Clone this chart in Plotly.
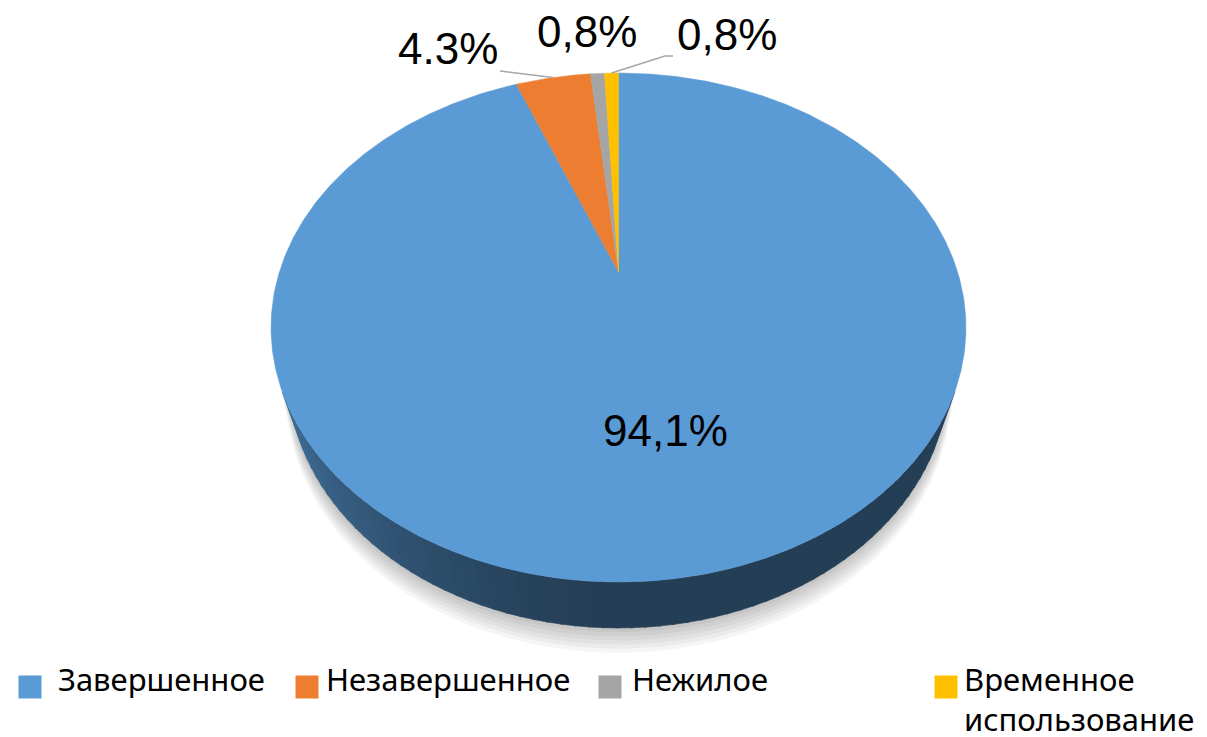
import numpy as np
import plotly.graph_objects as go

# ---------------- data ----------------
categories = ["Завершенное", "Незавершенное", "Нежилое", "Временное<br>использование"]
values = [94.1, 4.3, 0.8, 0.8]
value_labels = ["94,1%", "4.3%", "0,8%", "0,8%"]
colors = ["#5B9BD5", "#ED7D31", "#A5A5A5", "#FFC000"]

# ---------------- style / geometry (page pixels) ----------------
W, H = 1207, 737
PAD = 8                        # browser default body margin
CX, CY = 618.5, 272.0          # projected pie centre
SIN_A, COS_A = 0.7148, 0.6994  # camera elevation
DIST, FOC = 3.206, 1087.2      # camera distance / focal
THICK = 0.2277                 # pie thickness

label_pos = [(665.5, 430), (447.5, 48), (587, 31), (727, 34)]
leader_start = [None, (500, 71), None, (673, 56)]
leader_knee = [None, None, None, (665, 56)]
legend_sq_x = [30, 307, 610, 946]
legend_txt_x = [56, 324, 630, 962]
legend_y = 687


def project(theta_deg, r=1.0, z=0.0):
    t = np.radians(np.asarray(theta_deg, dtype=float))
    X = r * np.sin(t)
    Y = r * np.cos(t)
    depth = Y * COS_A - z * SIN_A + DIST
    sx = FOC * X / depth
    sy = FOC * (Y * SIN_A + z * COS_A) / depth
    return CX + sx, CY - sy


def shade(hexcol, f):
    h = hexcol.lstrip("#")
    r, g, b = (int(h[i:i + 2], 16) for i in (0, 2, 4))
    return "rgb(%d,%d,%d)" % (r * f, g * f, b * f)


fig = go.Figure()

total = float(sum(values))
cum = np.concatenate([[0.0], np.cumsum(values)]) / total * 360.0
starts, ends = cum[:-1], cum[1:]

# visible side range (perspective)
vis0 = np.degrees(np.arccos(-1.0 / (DIST * COS_A)))
vis1 = 360.0 - vis0

# ---- soft drop shadow ----
for k in range(6, 0, -1):
    th = np.linspace(vis0 - 5, vis1 + 5, 200)
    xt, yt = project(th, 1.0, -0.05)
    xb, yb = project(th[::-1], 1.0 + 0.004 * k, -THICK - 0.014 * k)
    fig.add_trace(go.Scatter(
        x=np.concatenate([xt, xb]), y=np.concatenate([yt, yb]),
        fill="toself", mode="lines", line=dict(width=0),
        fillcolor="rgba(0,0,0,0.04)", hoverinfo="skip", showlegend=False))

# ---- side walls ----
for i in range(len(values)):
    a0, a1 = max(starts[i], vis0), min(ends[i], vis1)
    if a1 <= a0:
        continue
    n = max(1, int(np.ceil((a1 - a0) / 2.0)))
    edges = np.linspace(a0, a1, n + 1)
    for j in range(n):
        th = np.linspace(edges[j], edges[j + 1] + (0.3 if j < n - 1 else 0), 6)
        xt, yt = project(th, 1.0, 0.0)
        xb, yb = project(th[::-1], 1.0, -THICK)
        mid = np.radians(0.5 * (edges[j] + edges[j + 1]))
        f = 0.40 + 0.34 * max(0.0, -np.sin(mid)) ** 1.5
        col = shade(colors[i], f)
        fig.add_trace(go.Scatter(
            x=np.concatenate([xt, xb, xt[:1]]), y=np.concatenate([yt, yb, yt[:1]]),
            fill="toself", mode="lines", line=dict(width=0.6, color=col),
            fillcolor=col, hoverinfo="skip", showlegend=False))

# ---- top faces ----
for i in range(len(values)):
    th = np.linspace(starts[i], ends[i], max(4, int((ends[i] - starts[i]) * 2)))
    xa, ya = project(th, 1.0, 0.0)
    fig.add_trace(go.Scatter(
        x=np.concatenate([[CX], xa, [CX]]), y=np.concatenate([[CY], ya, [CY]]),
        fill="toself", mode="lines", line=dict(width=0.5, color=colors[i]),
        fillcolor=colors[i], name=categories[i], hoverinfo="skip", showlegend=False))

# ---- leader lines ----
for i in range(len(values)):
    if leader_start[i] is None:
        continue
    mid = 0.5 * (starts[i] + ends[i])
    ex, ey = project(mid, 1.0, 0.0)
    xs = [leader_start[i][0]]
    ys = [leader_start[i][1]]
    if leader_knee[i] is not None:
        xs.append(leader_knee[i][0]); ys.append(leader_knee[i][1])
    xs.append(float(ex)); ys.append(float(ey))
    fig.add_trace(go.Scatter(x=xs, y=ys, mode="lines",
                             line=dict(color="#A6A6A6", width=1.5),
                             hoverinfo="skip", showlegend=False))

# ---- legend squares ----
fig.add_trace(go.Scatter(
    x=legend_sq_x, y=[legend_y] * len(values), mode="markers",
    marker=dict(symbol="square", size=23, color=colors, line=dict(width=0)),
    hoverinfo="skip", showlegend=False))

annotations = []
for i, txt in enumerate(value_labels):
    annotations.append(dict(
        x=label_pos[i][0], y=label_pos[i][1], text=txt, showarrow=False,
        xanchor="center", yanchor="middle",
        font=dict(family="Liberation Sans, Arial, sans-serif", size=44, color="#000000")))
for i, cat in enumerate(categories):
    annotations.append(dict(
        x=legend_txt_x[i], y=656, text=cat, showarrow=False,
        xanchor="left", yanchor="top", align="left",
        font=dict(family="Noto Sans, Open Sans, sans-serif", size=31, color="#000000")))

fig.update_layout(
    width=W - PAD, height=H - PAD, autosize=False,
    margin=dict(l=0, r=0, t=0, b=0),
    paper_bgcolor="white", plot_bgcolor="white",
    showlegend=False,
    xaxis=dict(range=[PAD, W], visible=False, fixedrange=True),
    yaxis=dict(range=[H, PAD], visible=False, fixedrange=True),
    annotations=annotations,
)

fig.write_html("out.html")
